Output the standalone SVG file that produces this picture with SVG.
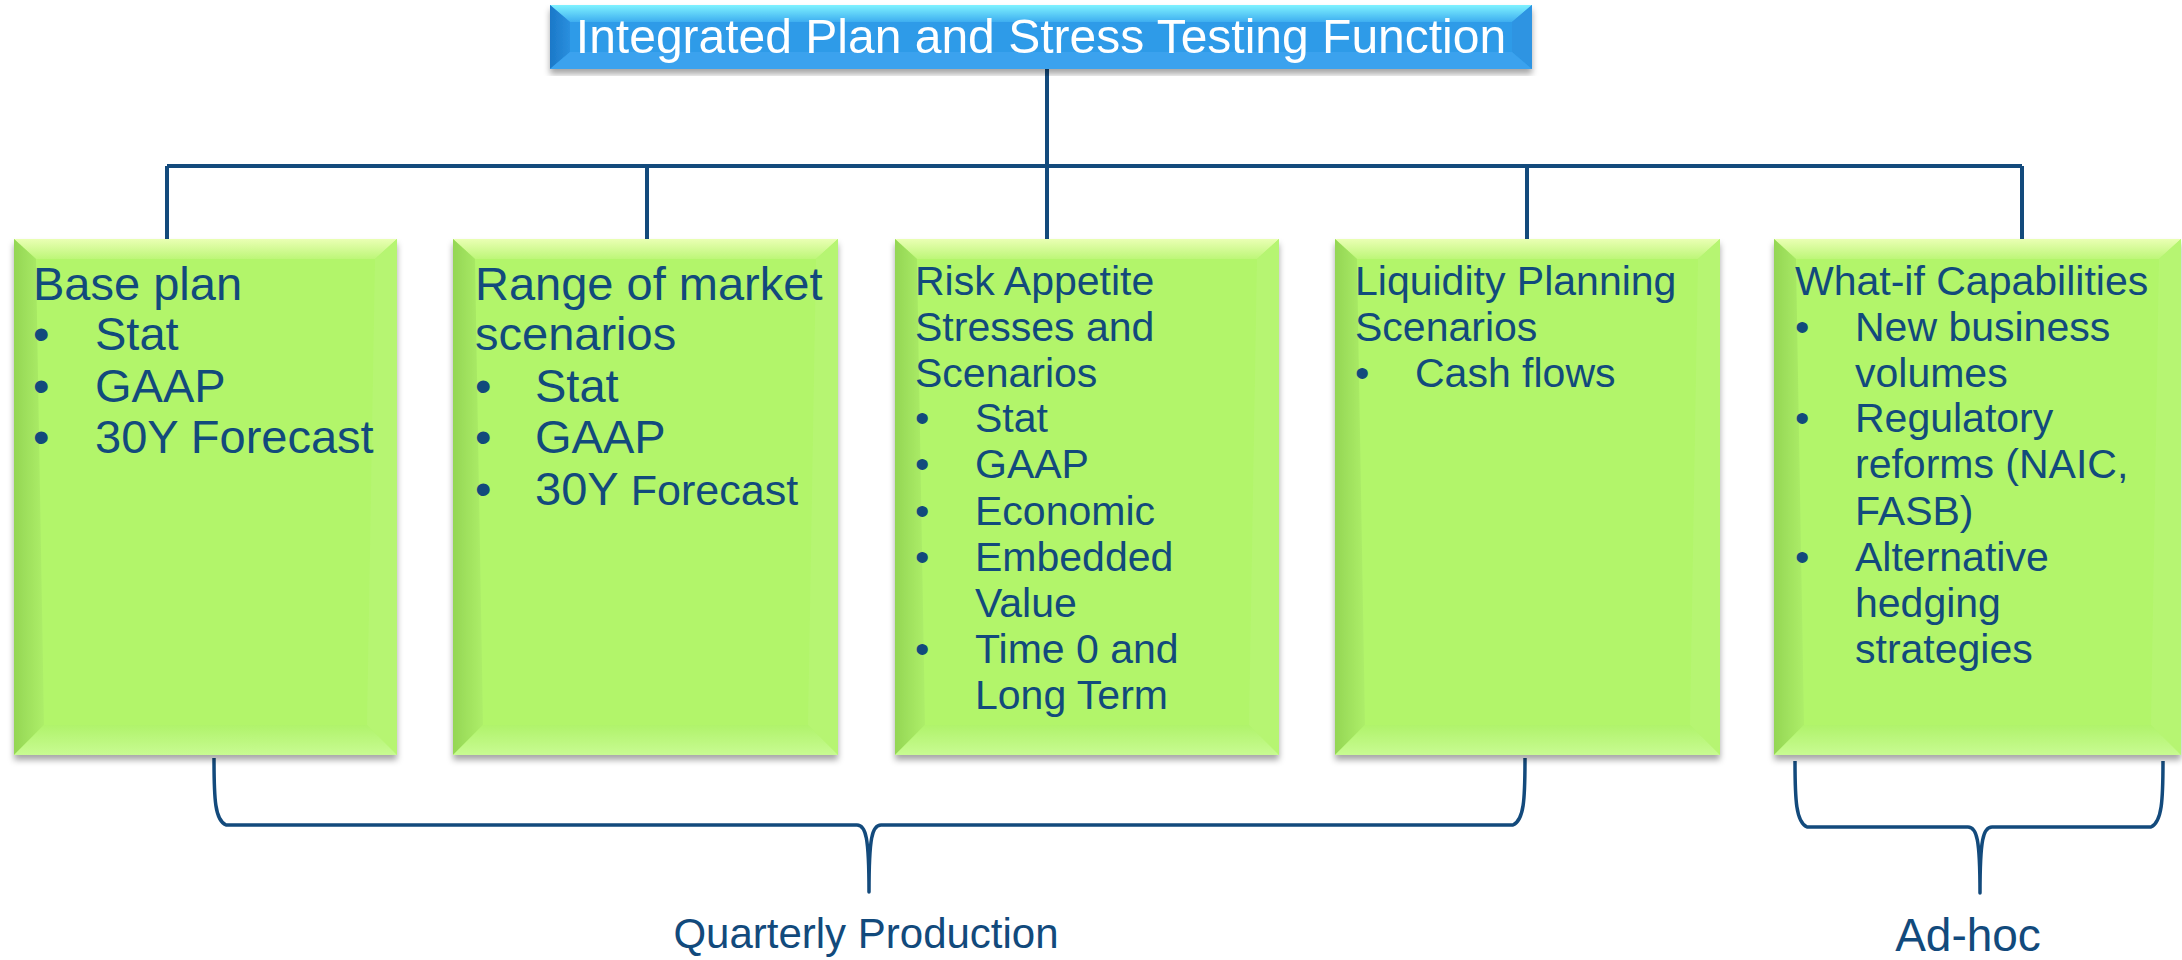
<svg xmlns="http://www.w3.org/2000/svg" width="2182" height="960" viewBox="0 0 2182 960">
  <defs>
    <linearGradient id="gTop" x1="0" y1="0" x2="0" y2="1">
      <stop offset="0" stop-color="#eaffb4"/>
      <stop offset="1" stop-color="#bdf678"/>
    </linearGradient>
    <linearGradient id="gLeft" x1="0" y1="0" x2="1" y2="0">
      <stop offset="0" stop-color="#94d654"/>
      <stop offset="1" stop-color="#adee69"/>
    </linearGradient>
    <linearGradient id="gBottom" x1="0" y1="0" x2="0" y2="1">
      <stop offset="0" stop-color="#b0f36b"/>
      <stop offset="1" stop-color="#c8fb92"/>
    </linearGradient>
    <linearGradient id="bTop" x1="0" y1="0" x2="0" y2="1">
      <stop offset="0" stop-color="#7ff2ff"/>
      <stop offset="1" stop-color="#3eaef0"/>
    </linearGradient>
    <linearGradient id="bLeft" x1="0" y1="0" x2="1" y2="0">
      <stop offset="0" stop-color="#1b78c8"/>
      <stop offset="1" stop-color="#2a8fde"/>
    </linearGradient>
    <filter id="shadow" x="-5%" y="-5%" width="110%" height="115%">
      <feDropShadow dx="0" dy="5" stdDeviation="3" flood-color="#000" flood-opacity="0.35"/>
    </filter>
    <style>
      .face { fill: #b2f56b; }
      .bt { fill: url(#gTop); }
      .bl { fill: url(#gLeft); }
      .br { fill: #b6f572; }
      .bb { fill: url(#gBottom); }
      .tface { fill: #2f9be8; }
      .tbt { fill: url(#bTop); }
      .tbl { fill: url(#bLeft); }
      .tbr { fill: #2d94e2; }
      .tbb { fill: #3aa2ee; }
      .wire { fill: none; stroke: #134a7c; stroke-width: 4; }
      .brace { fill: none; stroke: #134a7c; stroke-width: 3.5; stroke-linejoin: round; }
      .t { font-family: "Liberation Sans", Arial, sans-serif; fill: #124a7c; }
      .h47 { font-size: 47px; }
      .h41 { font-size: 41px; }
      .title { font-family: "Liberation Sans", Arial, sans-serif; font-size: 48px; fill: #ffffff; }
    </style>
  </defs>

  <!-- connectors: tree lines and grouping braces -->
  <g id="connectors">
    <path class="wire" d="M1047 69 V166 M167 166 H2022 M167 166 V240 M647 166 V240 M1047 166 V240 M1527 166 V240 M2022 166 V240"/>
    <path class="brace" d="M214 758 C214 800 215 820 226 825 H857 C866 825 869 838 869 892 C869 838 872 825 881 825 H1513 C1524 820 1525 800 1525 758"/>
    <path class="brace" d="M1795 761 C1795 800 1796 822 1807 827 H1968 C1977 827 1980 840 1980 893 C1980 840 1983 827 1992 827 H2151 C2162 822 2163 800 2163 761"/>
  </g>

  <!-- root node -->
  <g id="root" filter="url(#shadow)">
    <rect class="tface" x="550" y="5" width="982" height="64"/>
    <polygon class="tbt" points="550,5 1532,5 1512,22 570,22"/>
    <polygon class="tbl" points="550,5 570,22 570,52 550,69"/>
    <polygon class="tbr" points="1532,5 1532,69 1512,52 1512,22"/>
    <polygon class="tbb" points="550,69 570,52 1512,52 1532,69"/>
    <text class="title" x="1041" y="53" text-anchor="middle">Integrated Plan and Stress Testing Function</text>
  </g>

  <!-- node 1 -->
  <g id="base-plan">
    <g filter="url(#shadow)">
      <rect class="face" x="14" y="239" width="383" height="516"/>
      <polygon class="bt" points="14,239 397,239 375,259 36,259"/>
      <polygon class="bl" points="14,239 36,259 44,725 14,755"/>
      <polygon class="br" points="397,239 397,755 367,725 375,259"/>
      <polygon class="bb" points="14,755 44,725 367,725 397,755"/>
    </g>
    <text class="t h47" x="33" y="300">Base plan</text>
    <text class="t h47" x="33" y="350">•</text><text class="t h47" x="95" y="350">Stat</text>
    <text class="t h47" x="33" y="402">•</text><text class="t h47" x="95" y="402">GAAP</text>
    <text class="t h47" x="33" y="453">•</text><text class="t h47" x="95" y="453">30Y Forecast</text>
  </g>

  <!-- node 2 -->
  <g id="market-scenarios">
    <g filter="url(#shadow)">
      <rect class="face" x="453" y="239" width="385" height="516"/>
      <polygon class="bt" points="453,239 838,239 816,259 475,259"/>
      <polygon class="bl" points="453,239 475,259 483,725 453,755"/>
      <polygon class="br" points="838,239 838,755 808,725 816,259"/>
      <polygon class="bb" points="453,755 483,725 808,725 838,755"/>
    </g>
    <text class="t h47" x="475" y="300">Range of market</text>
    <text class="t h47" x="475" y="350">scenarios</text>
    <text class="t h47" x="475" y="402">•</text><text class="t h47" x="535" y="402">Stat</text>
    <text class="t h47" x="475" y="453">•</text><text class="t h47" x="535" y="453">GAAP</text>
    <text class="t h47" x="475" y="505">•</text><text class="t h47" x="535" y="505">30Y <tspan font-size="43">Forecast</tspan></text>
  </g>

  <!-- node 3 -->
  <g id="risk-appetite">
    <g filter="url(#shadow)">
      <rect class="face" x="895" y="239" width="384" height="516"/>
      <polygon class="bt" points="895,239 1279,239 1257,259 917,259"/>
      <polygon class="bl" points="895,239 917,259 925,725 895,755"/>
      <polygon class="br" points="1279,239 1279,755 1249,725 1257,259"/>
      <polygon class="bb" points="895,755 925,725 1249,725 1279,755"/>
    </g>
    <text class="t h41" x="915" y="295">Risk Appetite</text>
    <text class="t h41" x="915" y="341">Stresses and</text>
    <text class="t h41" x="915" y="387">Scenarios</text>
    <text class="t h41" x="915" y="432">•</text><text class="t h41" x="975" y="432">Stat</text>
    <text class="t h41" x="915" y="478">•</text><text class="t h41" x="975" y="478">GAAP</text>
    <text class="t h41" x="915" y="525">•</text><text class="t h41" x="975" y="525">Economic</text>
    <text class="t h41" x="915" y="571">•</text><text class="t h41" x="975" y="571">Embedded</text>
    <text class="t h41" x="975" y="617">Value</text>
    <text class="t h41" x="915" y="663">•</text><text class="t h41" x="975" y="663">Time 0 and</text>
    <text class="t h41" x="975" y="709">Long Term</text>
  </g>

  <!-- node 4 -->
  <g id="liquidity-planning">
    <g filter="url(#shadow)">
      <rect class="face" x="1335" y="239" width="385" height="516"/>
      <polygon class="bt" points="1335,239 1720,239 1698,259 1357,259"/>
      <polygon class="bl" points="1335,239 1357,259 1365,725 1335,755"/>
      <polygon class="br" points="1720,239 1720,755 1690,725 1698,259"/>
      <polygon class="bb" points="1335,755 1365,725 1690,725 1720,755"/>
    </g>
    <text class="t h41" x="1355" y="295">Liquidity Planning</text>
    <text class="t h41" x="1355" y="341">Scenarios</text>
    <text class="t h41" x="1355" y="387">•</text><text class="t h41" x="1415" y="387">Cash flows</text>
  </g>

  <!-- node 5 -->
  <g id="what-if">
    <g filter="url(#shadow)">
      <rect class="face" x="1774" y="239" width="407" height="516"/>
      <polygon class="bt" points="1774,239 2181,239 2159,259 1796,259"/>
      <polygon class="bl" points="1774,239 1796,259 1804,725 1774,755"/>
      <polygon class="br" points="2181,239 2181,755 2151,725 2159,259"/>
      <polygon class="bb" points="1774,755 1804,725 2151,725 2181,755"/>
    </g>
    <text class="t h41" x="1795" y="295">What-if Capabilities</text>
    <text class="t h41" x="1795" y="341">•</text><text class="t h41" x="1855" y="341">New business</text>
    <text class="t h41" x="1855" y="387">volumes</text>
    <text class="t h41" x="1795" y="432">•</text><text class="t h41" x="1855" y="432">Regulatory</text>
    <text class="t h41" x="1855" y="478">reforms (NAIC,</text>
    <text class="t h41" x="1855" y="525">FASB)</text>
    <text class="t h41" x="1795" y="571">•</text><text class="t h41" x="1855" y="571">Alternative</text>
    <text class="t h41" x="1855" y="617">hedging</text>
    <text class="t h41" x="1855" y="663">strategies</text>
  </g>

  <!-- brace labels -->
  <g id="quarterly-label">
    <text class="t" x="866" y="948" font-size="42" text-anchor="middle">Quarterly Production</text>
  </g>
  <g id="adhoc-label">
    <text class="t" x="1968" y="951" font-size="46" text-anchor="middle">Ad-hoc</text>
  </g>
</svg>
